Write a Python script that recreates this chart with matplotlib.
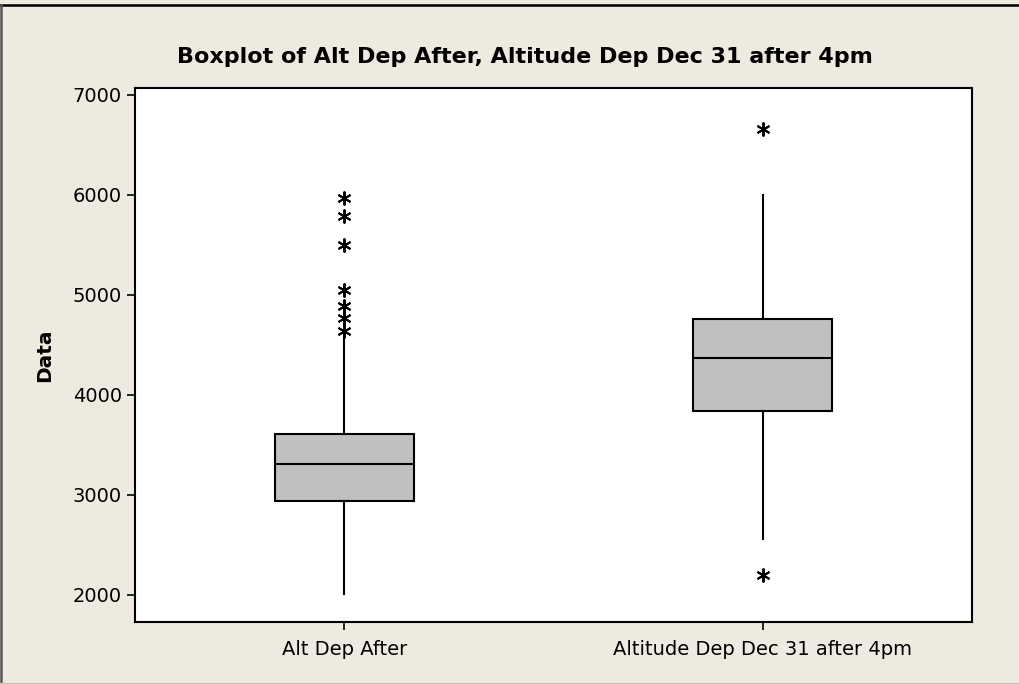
import matplotlib.pyplot as plt
from matplotlib.lines import Line2D

# values
labels = ["Alt Dep After", "Altitude Dep Dec 31 after 4pm"]
whisker_low = [2010, 2560]
q1 = [2940, 3840]
median = [3310, 4370]
q3 = [3610, 4760]
whisker_high = [4600, 6000]
outliers = [
    [5970, 5790, 5500, 5050, 4890, 4770, 4640],
    [6660, 2200],
]

bg = "#EEEAE0"

fig = plt.figure(figsize=(10.19, 6.84), dpi=100, facecolor=bg)
ax = fig.add_axes([135 / 1019, 1 - 622 / 684, 837 / 1019, 534 / 684])
ax.set_facecolor("white")

stats = []
for i in range(len(labels)):
    stats.append({
        "label": labels[i],
        "whislo": whisker_low[i],
        "q1": q1[i],
        "med": median[i],
        "q3": q3[i],
        "whishi": whisker_high[i],
        "fliers": outliers[i],
    })

ax.bxp(
    stats,
    positions=[1, 2],
    widths=0.333,
    patch_artist=True,
    showcaps=False,
    boxprops=dict(facecolor="#C0C0C0", edgecolor="black", linewidth=1.5),
    medianprops=dict(color="black", linewidth=1.5),
    whiskerprops=dict(color="black", linewidth=1.5),
    flierprops=dict(marker=(6, 2, 0), markersize=10, markeredgecolor="black",
                    markeredgewidth=1.4, linestyle="none"),
)

ax.set_xlim(0.5, 2.5)
ax.set_ylim(1730, 7070)
ax.set_yticks([2000, 3000, 4000, 5000, 6000, 7000])
ax.tick_params(axis="both", labelsize=14, length=6, width=1.2, colors="black")
ax.tick_params(axis="x", pad=7)
for s in ax.spines.values():
    s.set_linewidth(1.5)
ax.set_ylabel("Data", fontsize=14.5, fontweight="bold", labelpad=13)
fig.text(525 / 1019, 1 - 57 / 684,
         "Boxplot of Alt Dep After, Altitude Dep Dec 31 after 4pm",
         fontsize=16, fontweight="bold", ha="center", va="center")

# outer frame of the graph window
fig.add_artist(Line2D([0, 1], [1 - 5 / 684, 1 - 5 / 684], color="black", lw=1.8))
fig.add_artist(Line2D([1 / 1019, 1 / 1019], [0, 1 - 5 / 684], color="#555555", lw=1.8))
fig.add_artist(Line2D([0, 1], [1 / 684, 1 / 684], color="#C8C4BA", lw=1))

fig.savefig("out.png", dpi=100, facecolor=bg)
